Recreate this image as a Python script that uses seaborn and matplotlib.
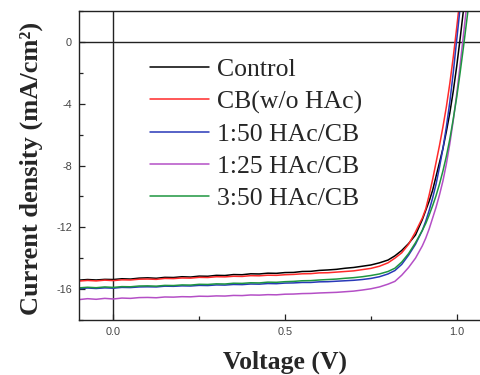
import numpy as np
import pandas as pd
import matplotlib
matplotlib.use("Agg")
import matplotlib.pyplot as plt
import seaborn as sns

sns.set_style("ticks")

# voltage grid (V): flat part every 0.025, knee every 0.01
volt_flat = [round(-0.1 + 0.025 * i, 4) for i in range(37)]
volt_knee = [0.82, 0.84, 0.86, 0.88, 0.90, 0.91, 0.92, 0.93, 0.94, 0.95,
             0.96, 0.97, 0.98, 0.99, 1.00, 1.01, 1.02, 1.03, 1.04, 1.05]
voltage = volt_flat + volt_knee

# current density (mA/cm2)
j_control = [-15.42, -15.38, -15.41, -15.37, -15.38, -15.33, -15.35, -15.29, -15.27, -15.30,
             -15.24, -15.25, -15.20, -15.22, -15.16, -15.17, -15.11, -15.12, -15.06, -15.07,
             -15.01, -15.02, -14.97, -14.98, -14.93, -14.92, -14.86, -14.85, -14.79, -14.76,
             -14.72, -14.65, -14.60, -14.52, -14.44, -14.30, -14.12,
             -13.85, -13.5, -13.05, -12.5, -11.5, -10.9, -10.3, -9.6, -8.7, -7.8,
             -6.9, -5.8, -4.6, -3.2, -1.6, 0.2, 2.1, 4.1, 6.1, 8.1]
j_cb = [-15.48, -15.44, -15.47, -15.42, -15.45, -15.40, -15.41, -15.36, -15.35, -15.37,
        -15.31, -15.32, -15.28, -15.29, -15.24, -15.25, -15.20, -15.21, -15.17, -15.18,
        -15.13, -15.14, -15.10, -15.11, -15.07, -15.05, -15.01, -15.00, -14.95, -14.94,
        -14.90, -14.86, -14.82, -14.74, -14.66, -14.52, -14.30,
        -14.0, -13.65, -13.1, -12.3, -11.4, -10.8, -9.9, -8.9, -7.8, -6.7,
        -5.5, -4.2, -2.7, -1.0, 0.9, 2.9, 4.9, 6.9, 8.9, 10.9]
j_150 = [-15.97, -15.93, -15.96, -15.92, -15.94, -15.89, -15.90, -15.86, -15.85, -15.86,
         -15.81, -15.82, -15.79, -15.80, -15.76, -15.77, -15.73, -15.74, -15.70, -15.71,
         -15.67, -15.68, -15.64, -15.65, -15.61, -15.60, -15.57, -15.57, -15.53, -15.52,
         -15.49, -15.46, -15.43, -15.38, -15.31, -15.20, -15.02,
         -14.8, -14.4, -13.8, -13.1, -12.2, -11.6, -10.9, -10.1, -9.2, -8.1,
         -6.9, -5.5, -3.9, -2.0, 0.1, 2.2, 4.3, 6.4, 8.5, 10.6]
j_125 = [-16.68, -16.62, -16.66, -16.60, -16.64, -16.58, -16.60, -16.55, -16.54, -16.56,
         -16.51, -16.52, -16.49, -16.50, -16.46, -16.47, -16.44, -16.45, -16.41, -16.42,
         -16.38, -16.39, -16.36, -16.37, -16.33, -16.32, -16.29, -16.28, -16.25, -16.23,
         -16.21, -16.17, -16.13, -16.06, -15.98, -15.86, -15.68,
         -15.5, -15.1, -14.6, -14.0, -13.2, -12.7, -12.1, -11.4, -10.7, -9.9,
         -9.0, -7.9, -6.6, -5.1, -3.4, -1.5, 0.5, 2.5, 4.5, 6.5]
j_350 = [-15.92, -15.88, -15.91, -15.86, -15.89, -15.84, -15.85, -15.80, -15.79, -15.81,
         -15.76, -15.77, -15.73, -15.74, -15.69, -15.70, -15.66, -15.67, -15.62, -15.63,
         -15.59, -15.60, -15.55, -15.56, -15.52, -15.50, -15.46, -15.45, -15.41, -15.38,
         -15.35, -15.30, -15.26, -15.20, -15.12, -15.02, -14.86,
         -14.65, -14.25, -13.7, -13.0, -12.2, -11.75, -11.2, -10.6, -9.95, -9.2,
         -8.35, -7.4, -6.3, -5.0, -3.6, -2.0, -0.3, 1.5, 3.3, 5.1]

labels = ["Control", "CB(w/o HAc)", "1:50 HAc/CB", "1:25 HAc/CB", "3:50 HAc/CB"]
colors = ["#000000", "#ff2a2a", "#2838b8", "#b44fc6", "#1e9640"]
series = [j_control, j_cb, j_150, j_125, j_350]

df = pd.concat([pd.DataFrame({"V": voltage, "J": s, "sample": lab})
                for lab, s in zip(labels, series)], ignore_index=True)

fig = plt.figure(figsize=(4.81, 3.75), dpi=100)
ax = fig.add_axes([79 / 481, 55 / 375, 412 / 481, 309 / 375])

ax.axhline(0, color="#222222", lw=1.0, zorder=1)
ax.axvline(0, color="#222222", lw=1.0, zorder=1)

sns.lineplot(data=df, x="V", y="J", hue="sample", hue_order=labels,
             palette=dict(zip(labels, colors)), sort=False, lw=1.1,
             estimator=None, ax=ax, legend=False)

ax.set_xlim(-0.1, 1.1)
ax.set_ylim(-18, 2)
ax.set_xticks([0.0, 0.5, 1.0])
ax.set_xticks([0.25, 0.75], minor=True)
ax.set_yticks([0, -4, -8, -12, -16])
ax.set_yticks([2, -2, -6, -10, -14, -18], minor=True)
ax.set_xticklabels(["0.0", "0.5", "1.0"])
ax.set_yticklabels(["0", "-4", "-8", "-12", "-16"])
ax.tick_params(which="both", direction="in", color="#222222", width=0.9,
               labelsize=7.8, labelcolor="#444444", pad=5)
ax.tick_params(which="major", length=4)
ax.tick_params(which="minor", length=3)
for t in ax.get_xticklabels() + ax.get_yticklabels():
    t.set_family("Liberation Sans")
for sp in ax.spines.values():
    sp.set_color("#222222")
    sp.set_linewidth(1.0)

ax.set_xlabel("Voltage (V)", family="Liberation Serif", fontweight="bold", fontsize=18.5)
ax.set_ylabel("Current density (mA/cm²)", family="Liberation Serif", fontweight="bold", fontsize=19)
ax.xaxis.set_label_coords(0.5, -0.098)
ax.yaxis.set_label_coords(-0.088, 0.49)

handles = [plt.Line2D([], [], color=c, lw=1.1) for c in colors]
ax.legend(handles, labels, loc="upper left", bbox_to_anchor=(0.172, 0.848),
          frameon=False, prop={"family": "Liberation Serif", "size": 18.5},
          handlelength=2.3, handletextpad=0.3, labelspacing=0.36,
          borderaxespad=0, borderpad=0)

fig.savefig("out.png", dpi=100)
